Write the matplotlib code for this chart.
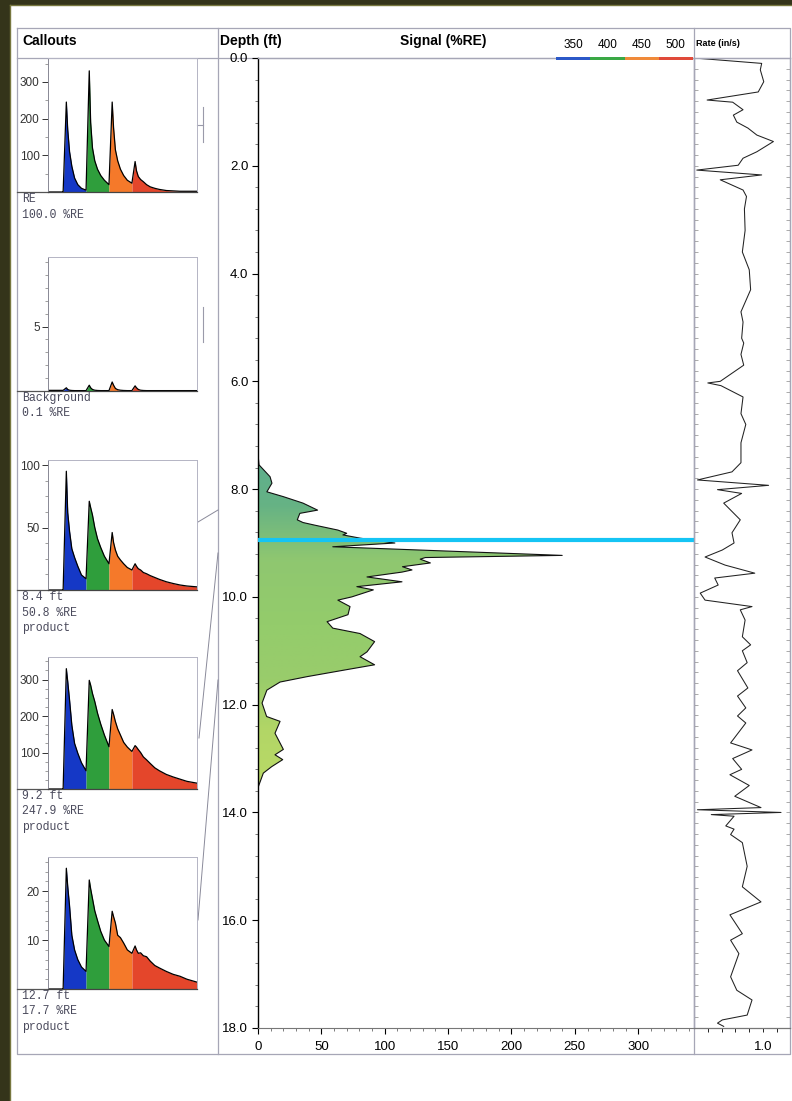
import matplotlib
matplotlib.use("Agg")
import matplotlib.pyplot as plt
from matplotlib.patches import Rectangle, Polygon
import numpy as np

plt.rcParams['font.family'] = ['Liberation Sans', 'DejaVu Sans']

# ---- data ----
# callout spectra, sampled on a common wavelength grid (nm)
wl = [318, 349, 350, 357, 360, 364, 369, 375, 382, 390, 400,
      407, 410, 414, 419, 425, 432, 440, 450,
      457, 460, 464, 469, 475, 482, 490, 500,
      507, 510, 514, 519, 525, 532, 540, 550, 560, 575, 590, 605, 620, 642]

spec_re = [0, 0, 0, 245, 170, 110, 70, 38, 20, 10, 5,
           330, 190, 120, 85, 62, 45, 32, 20,
           245, 175, 115, 85, 62, 45, 32, 24,
           83, 58, 42, 34, 28, 20, 14, 10, 7, 4, 3, 2, 2, 2]
spec_bg = [0.05, 0.05, 0.05, 0.25, 0.12, 0.06, 0.04, 0.03, 0.03, 0.03, 0.03,
           0.45, 0.25, 0.12, 0.06, 0.04, 0.03, 0.03, 0.03,
           0.7, 0.45, 0.2, 0.1, 0.06, 0.04, 0.03, 0.03,
           0.4, 0.25, 0.12, 0.06, 0.04, 0.03, 0.03, 0.03, 0.03, 0.03, 0.03, 0.03, 0.03, 0.03]
spec_84 = [0, 0, 0, 95, 62, 47, 33, 26, 19, 12, 9,
           71, 66, 60, 50, 41, 34, 27, 21,
           46, 38, 32, 27, 24, 21, 18, 16,
           21, 19, 17, 16, 14, 13, 11.5, 10, 8.5, 6.6, 5.2, 4, 3.2, 2.5]
spec_92 = [0, 0, 0, 330, 295, 244, 175, 125, 98, 72, 50,
           298, 285, 262, 240, 208, 178, 148, 116,
           218, 205, 185, 165, 148, 128, 115, 103,
           119, 115, 108, 100, 88, 80, 70, 58, 50, 40, 33, 27, 21, 16]
spec_127 = [0, 0, 0, 24.7, 21, 17, 11, 8, 6, 4.5, 3.6,
            22.3, 20.5, 18.5, 16, 14, 11.8, 10, 8.7,
            15.9, 14.8, 13.5, 11, 10.5, 9.4, 8, 7.3,
            8.8, 8, 7.3, 7.4, 6.8, 6.6, 5.7, 4.8, 4.3, 3.6, 3.0, 2.6, 2.0, 1.4]

band_edges = [350, 400, 450, 500, 642]
band_labels = ['350', '400', '450', '500']
band_colors = ['#1538c6', '#2f9e3c', '#f5792a', '#e4462b']
legend_colors = ['#2b58c8', '#3aa845', '#f08a3a', '#e04a3a']

callout_lines = [['RE', '100.0 %RE'],
                 ['Background', '0.1 %RE'],
                 ['8.4 ft', '50.8 %RE', 'product'],
                 ['9.2 ft', '247.9 %RE', 'product'],
                 ['12.7 ft', '17.7 %RE', 'product']]

# signal (%RE) vs depth (ft)
sig_depth = [0.0, 7.35, 7.55, 7.77, 7.89, 8.05, 8.14, 8.26, 8.39, 8.45, 8.57,
             8.62, 8.67, 8.76, 8.82, 8.85, 8.91, 9.0, 9.07, 9.23, 9.27,
             9.30, 9.37, 9.44, 9.50, 9.54, 9.63, 9.72, 9.81, 9.87, 10.0,
             10.06, 10.18, 10.33, 10.46, 10.58, 10.68, 10.83, 11.02, 11.11, 11.26,
             11.35, 11.48, 11.58, 11.73, 11.97, 12.22, 12.31, 12.53, 12.83, 12.93,
             13.02, 13.15, 13.27, 13.52, 13.7, 18.0]
signal = [0, 0, 0.8, 9.5, 11, 7, 20, 35.5, 47, 33, 31,
          35.5, 45, 63, 70, 67, 80.5, 108, 59, 240, 132,
          128, 136, 114, 121.5, 113.6, 86, 113.6, 78, 91, 74,
          63, 72.6, 71, 54.5, 59, 80.5, 92, 86, 80.5, 92,
          70, 38.7, 17.4, 7, 3.2, 6.8, 17.4, 13.4, 20, 13.4,
          19.5, 10.8, 4.2, 0.3, 0, 0]

# rate (in/s) vs depth (ft)
rate_depth = [0.0, 0.1, 0.22, 0.44, 0.63, 0.78, 0.82, 0.96, 1.06, 1.19, 1.30,
              1.43, 1.55, 1.74, 1.86, 1.99, 2.08, 2.17, 2.26, 2.45, 2.57,
              2.8, 3.2, 3.6, 3.93, 4.30, 4.71, 4.9, 5.2, 5.29, 5.5,
              5.70, 6.0, 6.03, 6.08, 6.29, 6.6, 6.8, 7.14, 7.51, 7.68,
              7.83, 7.93, 8.01, 8.08, 8.26, 8.57, 8.81, 9.0, 9.13, 9.26,
              9.41, 9.56, 9.65, 9.78, 9.93, 10.06, 10.18, 10.24, 10.43, 10.74,
              10.89, 11.0, 11.22, 11.37, 11.69, 11.84, 12.06, 12.21, 12.34, 12.71,
              12.84, 13.0, 13.2, 13.3, 13.5, 13.7, 13.91, 13.95, 14.0, 14.04,
              14.07, 14.25, 14.31, 14.41, 14.56, 15.0, 15.38, 15.66, 15.9, 16.25,
              16.37, 16.62, 17.05, 17.3, 17.48, 17.76, 17.85, 17.91, 17.97]
rate = [0.0, 0.98, 0.96, 1.01, 0.93, 0.19, 0.56, 0.71, 0.57, 0.62, 0.78,
        0.91, 1.15, 0.91, 0.71, 0.64, 0.04, 0.98, 0.38, 0.71, 0.76,
        0.73, 0.74, 0.70, 0.80, 0.82, 0.68, 0.71, 0.69, 0.72, 0.68,
        0.72, 0.38, 0.20, 0.39, 0.71, 0.68, 0.75, 0.68, 0.68, 0.55,
        0.05, 1.08, 0.34, 0.69, 0.43, 0.67, 0.55, 0.58, 0.41, 0.16,
        0.45, 0.88, 0.30, 0.35, 0.09, 0.16, 0.84, 0.67, 0.74, 0.70,
        0.82, 0.70, 0.77, 0.63, 0.78, 0.63, 0.75, 0.63, 0.75, 0.53,
        0.84, 0.56, 0.69, 0.52, 0.80, 0.59, 0.97, 0.05, 1.26, 0.25,
        0.58, 0.46, 0.58, 0.53, 0.70, 0.77, 0.70, 0.97, 0.52, 0.70,
        0.53, 0.65, 0.53, 0.62, 0.84, 0.77, 0.41, 0.34, 0.43]

marker_depth = 8.94

# ---- layout helpers (pixel coords of the 792x1101 page) ----
W, H = 792, 1101
fig = plt.figure(figsize=(W / 100, H / 100), dpi=100)
fig.patch.set_facecolor('white')


def rect(x0, y0, x1, y1):
    return [x0 / W, 1 - y1 / H, (x1 - x0) / W, (y1 - y0) / H]


bg = fig.add_axes([0, 0, 1, 1], zorder=-1)
bg.set_xlim(0, W)
bg.set_ylim(H, 0)
bg.axis('off')

# overlay for things that sit on top of the tracks
top = fig.add_axes([0, 0, 1, 1], zorder=10)
top.set_xlim(0, W)
top.set_ylim(H, 0)
top.axis('off')
top.patch.set_alpha(0)

# dark frame of the scan
bg.add_patch(Rectangle((0, 0), 10, H, color='#34341a', lw=0))
bg.add_patch(Rectangle((0, 0), W, 5, color='#34341a', lw=0))
bg.plot([10, 10], [5, H], color='#77773f', lw=1)
bg.plot([10, W], [5, 5], color='#77773f', lw=1)

gc = '#a6a6b6'
bg.plot([17, 790, 790, 17, 17], [28, 28, 1054, 1054, 28], color=gc, lw=0.9)
bg.plot([17, 790], [58, 58], color=gc, lw=0.9)
bg.plot([218, 218], [28, 1054], color=gc, lw=0.9)
bg.plot([694, 694], [28, 1054], color=gc, lw=0.9)

# headers
bg.text(22, 41, 'Callouts', fontsize=10, fontweight='bold', va='center')
bg.text(220, 41, 'Depth (ft)', fontsize=10, fontweight='bold', va='center')
bg.text(400, 41, 'Signal (%RE)', fontsize=10, fontweight='bold', va='center')
bg.text(696, 44, 'Rate (in/s)', fontsize=6.5, fontweight='bold', va='center',
        family=['Liberation Sans Narrow', 'Liberation Sans'])
seg = (693 - 556) / len(band_labels)
for i, (lab, col) in enumerate(zip(band_labels, legend_colors)):
    top.add_patch(Rectangle((556 + i * seg, 56.5), seg, 3.5, color=col, lw=0))
    bg.text(556 + (i + 0.5) * seg, 45, lab, fontsize=8.5, ha='center', va='center')

# ---- callout panels ----
panels = [(58, 192, 365, [100, 200, 300], 50, spec_re),
          (257, 391, 10.4, [5], 1, spec_bg),
          (460, 590, 104, [50, 100], 12.5, spec_84),
          (657, 789, 362, [100, 200, 300], 25, spec_92),
          (857, 989, 27, [10, 20], 2, spec_127)]
wl_arr = np.array(wl)
for (y0, y1, ymax, majors, minor_step, spec), lines in zip(panels, callout_lines):
    cax = fig.add_axes(rect(48, y0, 197, y1))
    cax.set_facecolor('none')
    sp = np.array(spec)
    for lo, hi, col in zip(band_edges[:-1], band_edges[1:], band_colors):
        m = (wl_arr >= lo) & (wl_arr <= hi)
        cax.fill_between(wl_arr[m], 0, sp[m], color=col, lw=0)
    cax.plot(wl_arr, sp, color='black', lw=0.9)
    cax.set_xlim(317, 642)
    cax.set_ylim(0, ymax)
    cax.set_xticks([])
    cax.set_yticks(majors)
    cax.set_yticks(np.arange(minor_step, ymax, minor_step), minor=True)
    cax.tick_params(axis='y', which='major', length=4, width=0.7, pad=2,
                    labelsize=8.5, colors='#333333')
    cax.tick_params(axis='y', which='minor', length=2, width=0.5, color='#777777')
    for s in ['top', 'right']:
        cax.spines[s].set_color('#b4b4c4')
        cax.spines[s].set_linewidth(0.7)
    cax.spines['left'].set_color('#888894')
    cax.spines['left'].set_linewidth(0.7)
    cax.spines['bottom'].set_color('#444444')
    cax.spines['bottom'].set_linewidth(0.9)
    bg.plot([17, 48], [y1, y1], color='#555555', lw=0.9)
    for k, txt in enumerate(lines):
        bg.text(22, y1 + 7 + k * 15.5, txt, fontsize=8.3, va='center',
                family=['Liberation Mono', 'DejaVu Sans Mono'], color='#4a4a5c')

# small markers beside the first two callouts
bg.plot([203, 203], [107, 142], color='#9a9aaa', lw=0.8)
bg.plot([197, 203], [125, 125], color='#9a9aaa', lw=0.8)
bg.plot([203, 203], [307, 342], color='#9a9aaa', lw=0.8)

# connector lines from callouts to depth
lc = '#8a8a9a'
bg.plot([198, 218], [522, 510], color=lc, lw=0.7)
bg.plot([199, 218], [738, 553], color=lc, lw=0.7)
bg.plot([198, 218], [920, 680], color=lc, lw=0.7)

# ---- main signal track ----
ax = fig.add_axes(rect(258, 58, 694, 1028))
ax.set_facecolor('none')
ax.set_xlim(0, 344)
ax.set_ylim(18, 0)

verts = list(zip(signal, sig_depth)) + [(0, sig_depth[-1]), (0, sig_depth[0])]
clip = Polygon(verts, closed=True, facecolor='none', edgecolor='none')
ax.add_patch(clip)
dgrid = np.linspace(0, 18, 600)
stops = [7.3, 8.3, 9.3, 10.5, 11.5, 12.5, 14.0]
rgb_stops = np.array([[0.36, 0.68, 0.56], [0.40, 0.70, 0.52], [0.56, 0.78, 0.44],
                      [0.58, 0.80, 0.42], [0.60, 0.80, 0.42], [0.70, 0.84, 0.40],
                      [0.74, 0.86, 0.40]])
img = np.stack([np.interp(dgrid, stops, rgb_stops[:, c]) for c in range(3)], axis=-1)
im = ax.imshow(img[:, None, :], extent=(0, 344, 18, 0), aspect='auto',
               interpolation='bilinear', zorder=1)
im.set_clip_path(clip)
ax.plot(signal, sig_depth, color='#111111', lw=0.8, zorder=2)
ax.axhline(marker_depth, color='#15c4f4', lw=3, zorder=3)

ax.set_yticks(np.arange(0, 18.1, 2))
ax.set_yticklabels([f'{v:.1f}' for v in np.arange(0, 18.1, 2)])
ax.set_yticks(np.arange(0, 18.01, 0.4), minor=True)
ax.set_xticks(range(0, 301, 50))
ax.set_xticks(range(0, 341, 10), minor=True)
ax.tick_params(axis='both', which='major', direction='out', length=4, width=0.8,
               labelsize=9.5, pad=3)
ax.tick_params(axis='x', which='major', pad=5)
ax.tick_params(axis='both', which='minor', direction='out', length=2.5, width=0.6,
               color='#666666')
ax.spines['left'].set_color('black')
ax.spines['left'].set_linewidth(1.0)
ax.spines['bottom'].set_color('#777777')
ax.spines['bottom'].set_linewidth(0.8)
for s in ['top', 'right']:
    ax.spines[s].set_color(gc)
    ax.spines[s].set_linewidth(0.9)

# ---- rate track ----
ar = fig.add_axes(rect(694, 58, 790, 1028))
ar.set_facecolor('none')
ar.plot(rate, rate_depth, color='#222222', lw=0.75)
ar.set_xlim(0, 1.39)
ar.set_ylim(18, 0)
ar.set_xticks([1.0])
ar.set_xticklabels(['1.0'])
ar.set_xticks([0.2, 0.4, 0.6, 0.8, 1.2], minor=True)
ar.set_yticks([])
ar.set_yticks(np.arange(0.2, 18, 0.2), minor=True)
ar.tick_params(axis='y', which='minor', direction='in', length=3, width=0.5,
               left=True, right=True, color='#888888')
ar.tick_params(axis='x', which='both', direction='out', length=3, width=0.6,
               labelsize=9.5, pad=6)
for s in ar.spines.values():
    s.set_color(gc)
    s.set_linewidth(0.9)
ar.spines['bottom'].set_color('#777777')

fig.savefig('out.png', dpi=100)
